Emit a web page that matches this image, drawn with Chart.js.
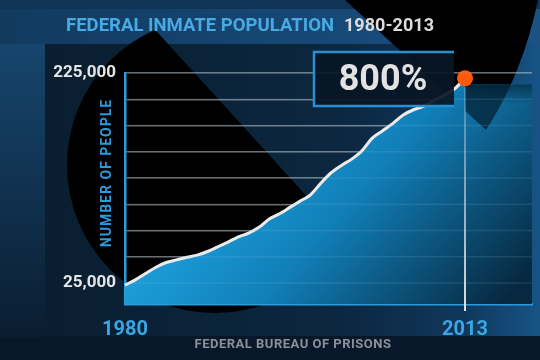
<!DOCTYPE html>
<html>
<head>
<meta charset="utf-8">
<style>
  html, body { margin: 0; padding: 0; background: #08192a; }
  #wrap { width: 540px; height: 360px; }
</style>
<script src="https://cdn.jsdelivr.net/npm/chart.js@4.4.0/dist/chart.umd.min.js"></script>
</head>
<body>
<div id="wrap"><canvas id="inmates" width="540" height="360"></canvas></div>
<script>
// values
const years = [1980, 1981, 1982, 1983, 1984, 1985, 1986, 1987, 1988, 1989,
    1990, 1991, 1992, 1993, 1994, 1995, 1996, 1997, 1998, 1999,
    2000, 2001, 2002, 2003, 2004, 2005, 2006, 2007, 2008, 2009,
    2010, 2011, 2012, 2013];
const inmates = [23000, 28000, 34000, 40000, 44500, 47000, 49500, 51500, 55000, 59500,
    64000, 69000, 72500, 78000, 86000, 91000, 97000, 103000, 109000, 120000,
    130000, 137000, 143000, 151000, 163000, 170000, 177000, 185000, 190000, 193500,
    199000, 204000, 210000, 220000];
const yTicks = [25000, 50000, 75000, 100000, 125000, 150000, 175000, 200000, 225000];
const yShown = {25000: '25,000', 225000: '225,000'};
const xTicks = [1980, 2013];

const titleText = 'FEDERAL INMATE POPULATION';
const periodText = '1980-2013';
const growthText = '800%';
const yTitle = 'NUMBER OF PEOPLE';
const sourceText = 'FEDERAL BUREAU OF PRISONS';

const FONT = 'Roboto, "Liberation Sans", sans-serif';

function fillGradient(ctx) {
    const g = ctx.createLinearGradient(230, 110, 480, 330);
    g.addColorStop(0, '#1fa8e4');
    g.addColorStop(0.45, '#117fb8');
    g.addColorStop(1, '#07283f');
    return g;
}

// draw text squeezed to a given width
function fitText(ctx, text, x, y, width) {
    const w = ctx.measureText(text).width;
    ctx.save();
    ctx.translate(x, y);
    ctx.scale(Math.min(1, width / w), 1);
    ctx.fillText(text, 0, 0);
    ctx.restore();
}

function wedgePath(ctx) {
    ctx.beginPath();
    ctx.moveTo(345, 0);
    ctx.lineTo(486, 130);
    ctx.quadraticCurveTo(525, 70, 540, -10);
    ctx.lineTo(540, 0);
    ctx.closePath();
}

const backdrop = {
    id: 'backdrop',
    beforeDraw(chart) {
        const ctx = chart.ctx;
        ctx.save();
        ctx.fillStyle = '#08172a';
        ctx.fillRect(0, 0, 540, 360);

        // panel behind the chart
        let g = ctx.createLinearGradient(45, 0, 540, 0);
        g.addColorStop(0, '#0a1e30');
        g.addColorStop(0.6, '#0c2740');
        g.addColorStop(0.85, '#10385c');
        g.addColorStop(1, '#175486');
        ctx.fillStyle = g;
        ctx.fillRect(45, 44, 495, 292);

        // left strip
        g = ctx.createLinearGradient(0, 0, 0, 340);
        g.addColorStop(0, '#184b76');
        g.addColorStop(1, '#0a1d30');
        ctx.fillStyle = g;
        ctx.fillRect(0, 0, 45, 337);

        // top band
        ctx.fillStyle = '#0f3456';
        ctx.fillRect(0, 0, 540, 9);
        g = ctx.createLinearGradient(0, 0, 540, 0);
        g.addColorStop(0, '#113a5e');
        g.addColorStop(0.5, '#164672');
        g.addColorStop(1, '#1a5284');
        ctx.fillStyle = g;
        ctx.fillRect(0, 9, 540, 35);

        // black disc cut by a diagonal
        ctx.save();
        ctx.beginPath();
        ctx.moveTo(128, 0);
        ctx.lineTo(456, 360);
        ctx.lineTo(0, 360);
        ctx.lineTo(0, 0);
        ctx.closePath();
        ctx.clip();
        ctx.beginPath();
        ctx.arc(215, 165, 148, 0, Math.PI * 2);
        ctx.fillStyle = '#000000';
        ctx.fill();
        ctx.restore();

        // black wedge top right
        wedgePath(ctx);
        ctx.fillStyle = '#000000';
        ctx.fill();
        ctx.restore();
    },
    beforeDatasetsDraw(chart) {
        // blue carrying on right of 2013, tinted where the wedge crosses it
        const ctx = chart.ctx;
        const a = chart.chartArea;
        const x0 = chart.scales.x.getPixelForValue(2013);
        const top = chart.scales.y.getPixelForValue(inmates[inmates.length - 1]) + 6;
        ctx.save();
        ctx.fillStyle = fillGradient(ctx);
        ctx.fillRect(x0, top, a.right - x0, a.bottom - top);
        ctx.beginPath();
        ctx.rect(x0, top, a.right - x0, a.bottom - top);
        ctx.clip();
        wedgePath(ctx);
        ctx.fillStyle = 'rgba(3,30,48,0.72)';
        ctx.fill();
        const g = ctx.createLinearGradient(0, top, 0, top + 20);
        g.addColorStop(0, 'rgba(3,25,40,0.6)');
        g.addColorStop(1, 'rgba(3,25,40,0)');
        ctx.fillStyle = g;
        ctx.fillRect(x0, top, a.right - x0, 20);
        ctx.restore();
    }
};

const overlay = {
    id: 'overlay',
    afterDatasetsDraw(chart) {
        // faint grid showing through the fill
        const ctx = chart.ctx;
        const a = chart.chartArea;
        const y = chart.scales.y;
        ctx.save();
        ctx.strokeStyle = 'rgba(150,200,235,0.14)';
        ctx.lineWidth = 1.5;
        yTicks.forEach(v => {
            const py = y.getPixelForValue(v);
            ctx.beginPath();
            ctx.moveTo(a.left, py);
            ctx.lineTo(a.right, py);
            ctx.stroke();
        });
        ctx.restore();
    },
    afterDraw(chart) {
        const ctx = chart.ctx;
        const x = chart.scales.x;
        const y = chart.scales.y;
        ctx.save();

        // marker line at 2013
        const xEnd = x.getPixelForValue(2013);
        const yEnd = y.getPixelForValue(inmates[inmates.length - 1]);
        const g = ctx.createLinearGradient(0, yEnd, 0, 311);
        g.addColorStop(0, 'rgba(225,225,225,0.2)');
        g.addColorStop(1, 'rgba(235,235,235,0.95)');
        ctx.strokeStyle = g;
        ctx.lineWidth = 2;
        ctx.beginPath();
        ctx.moveTo(xEnd, yEnd + 9);
        ctx.lineTo(xEnd, 311);
        ctx.stroke();

        // 800% box
        ctx.fillStyle = 'rgba(8,22,36,0.92)';
        ctx.fillRect(314, 52, 140, 54);
        ctx.strokeStyle = '#2a8fd0';
        ctx.lineWidth = 2.5;
        ctx.beginPath();
        ctx.moveTo(454, 52);
        ctx.lineTo(314, 52);
        ctx.lineTo(314, 106);
        ctx.lineTo(454, 106);
        ctx.stroke();
        ctx.fillStyle = '#e2e2e2';
        ctx.font = 'bold 36px ' + FONT;
        ctx.textAlign = 'center';
        ctx.textBaseline = 'middle';
        ctx.fillText(growthText, 383, 81);

        // title
        ctx.textAlign = 'left';
        ctx.font = 'bold 19px ' + FONT;
        ctx.fillStyle = '#49a9e3';
        fitText(ctx, titleText, 66, 26, 268);
        ctx.fillStyle = '#dcdcdc';
        fitText(ctx, periodText, 344, 26, 90);

        // y title
        ctx.save();
        ctx.translate(107, 173);
        ctx.rotate(-Math.PI / 2);
        ctx.textAlign = 'center';
        ctx.font = 'bold 14px ' + FONT;
        ctx.letterSpacing = '1px';
        ctx.fillStyle = '#2b9bdc';
        ctx.fillText(yTitle, 0, 0);
        ctx.restore();

        // source
        ctx.textAlign = 'center';
        ctx.font = 'bold 13px ' + FONT;
        ctx.letterSpacing = '0.5px';
        ctx.fillStyle = '#8c9198';
        ctx.fillText(sourceText, 293, 345);
        ctx.restore();
    }
};

new Chart(
    document.getElementById('inmates'),
    {
        type: 'line',
        data: {
            datasets: [{
                label: 'Federal inmates',
                data: years.map((yr, i) => ({x: yr, y: inmates[i]})),
                borderColor: '#ececec',
                borderWidth: 3,
                tension: 0.3,
                fill: 'start',
                backgroundColor: (c) => fillGradient(c.chart.ctx),
                pointRadius: (c) => c.dataIndex === years.length - 1 ? 8 : 0,
                pointHoverRadius: 0,
                pointBackgroundColor: '#ff5a0a',
                pointBorderWidth: 0,
                clip: false,
            }],
        },
        options: {
            responsive: false,
            animation: false,
            devicePixelRatio: 1,
            layout: {
                padding: {top: 73, right: 2, left: 0, bottom: 0}
            },
            plugins: {
                legend: {display: false},
                tooltip: {enabled: false},
            },
            scales: {
                x: {
                    type: 'linear',
                    min: 1980,
                    max: 2019.5,
                    afterFit: (s) => { s.height = 56; },
                    afterBuildTicks: (s) => { s.ticks = xTicks.map(v => ({value: v})); },
                    grid: {display: false},
                    border: {color: '#2b9bdc', width: 2.5},
                    ticks: {
                        color: '#3ba6e3',
                        font: {family: FONT, size: 20, weight: 'bold'},
                        padding: 6,
                        maxRotation: 0,
                        callback: (v) => String(v),
                    },
                },
                y: {
                    min: 5000,
                    max: 225000,
                    afterFit: (s) => { s.width = 125; },
                    afterBuildTicks: (s) => { s.ticks = yTicks.map(v => ({value: v})); },
                    grid: {
                        color: 'rgba(200,200,200,0.5)',
                        lineWidth: 1.5,
                        drawTicks: false,
                    },
                    border: {color: '#2b9bdc', width: 2.5},
                    ticks: {
                        color: '#e6e6e6',
                        font: {family: FONT, size: 17, weight: 'bold'},
                        padding: 9,
                        callback: (v) => yShown[v] || '',
                    },
                },
            },
        },
        plugins: [backdrop, overlay],
    }
);
</script>
</body>
</html>
